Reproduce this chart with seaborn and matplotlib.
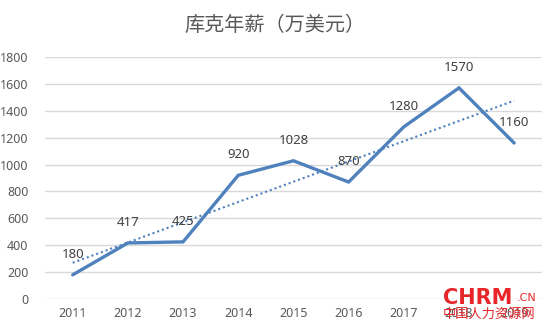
import numpy as np
import pandas as pd
import matplotlib
matplotlib.use("Agg")
import matplotlib.pyplot as plt
import seaborn as sns

years = ["2011", "2012", "2013", "2014", "2015", "2016", "2017", "2018", "2019"]
salary = [180, 417, 425, 920, 1028, 870, 1280, 1570, 1160]
title = "库克年薪（万美元）"

sns.set_theme(style="white")
plt.rcParams['font.family'] = ['Noto Sans', 'Noto Sans CJK SC', 'DejaVu Sans']

df = pd.DataFrame({"x": np.arange(len(years)), "year": years, "salary": salary})

fig = plt.figure(figsize=(5.5, 3.33), dpi=100)
ax = fig.add_axes([0.082, 0.102, 0.903, 0.727])

color = "#4F81BD"
sns.lineplot(data=df, x="x", y="salary", ax=ax, color=color, linewidth=2.4,
             solid_capstyle="round", solid_joinstyle="miter")

# linear trendline
coef = np.polyfit(df["x"], df["salary"], 1)
trend = np.polyval(coef, df["x"])
sns.lineplot(x=df["x"], y=trend, ax=ax, color=color, linewidth=1.5,
             linestyle=(0, (1, 1.4)))

for xi, v in zip(df["x"], salary):
    ax.annotate(str(v), (xi, v), xytext=(0, 10), textcoords="offset points",
                ha="center", va="bottom", fontsize=9.5, color="#404040")

ax.set_xlim(-0.5, len(years) - 0.5)
ax.set_ylim(0, 1800)
ax.set_yticks(range(0, 1801, 200))
ax.set_xticks(df["x"])
ax.set_xticklabels(years)
ax.tick_params(axis="both", length=0, labelsize=9, colors="#595959", pad=6)
ax.tick_params(axis="y", pad=12)
ax.grid(axis="y", color="#D9D9D9", linewidth=1)
ax.set_axisbelow(True)
for s in ax.spines.values():
    s.set_visible(False)
ax.set_xlabel("")
ax.set_ylabel("")

fig.text(0.5, 0.925, title, ha="center", va="center", fontsize=14.5,
         color="#595959", family=['Noto Sans CJK SC', 'DejaVu Sans'])

# watermark
fig.text(0.868, 0.105, "CHRM", ha="center", va="center", fontsize=15,
         color="#E8262A", fontweight="bold", family=['DejaVu Sans'])
fig.text(0.958, 0.105, ".CN", ha="center", va="center", fontsize=8,
         color="#E8262A", family=['DejaVu Sans'])
fig.text(0.89, 0.055, "中国人力资源网", ha="center", va="center", fontsize=9.5,
         color="#E8262A", family=['Noto Sans CJK SC', 'DejaVu Sans'])

fig.savefig("out.png", dpi=100)
